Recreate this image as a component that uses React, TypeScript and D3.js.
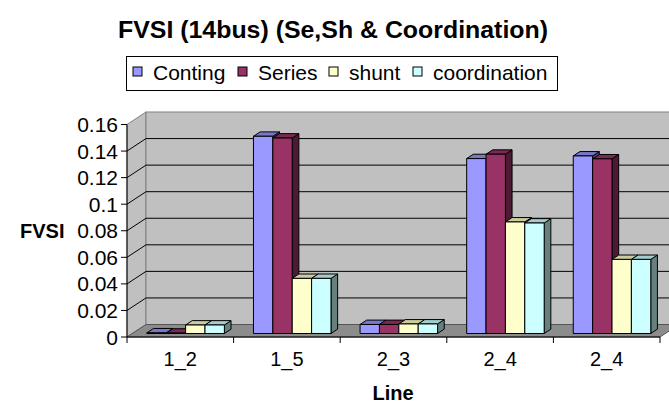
import * as d3 from 'd3';
import React from 'react';

// chart values
const categories = ["1_2", "1_5", "2_3", "2_4", "2_4"];
const seriesNames = ["Conting", "Series", "shunt", "coordination"];
const conting = [0.0005, 0.1485, 0.0068, 0.1317, 0.1337];
const series = [0.0003, 0.1472, 0.0068, 0.135, 0.1315];
const shunt = [0.0064, 0.0415, 0.0072, 0.084, 0.0558];
const coordination = [0.0064, 0.0415, 0.0072, 0.0832, 0.0558];
const yTicks = [0, 0.02, 0.04, 0.06, 0.08, 0.1, 0.12, 0.14, 0.16];

const values = [conting, series, shunt, coordination];
const faces = [
  { front: "#9999FF", top: "#7777CC", side: "#4D4D80" },
  { front: "#993366", top: "#7A2952", side: "#4D1A33" },
  { front: "#FFFFCC", top: "#CCCCA3", side: "#808066" },
  { front: "#CCFFFF", top: "#A3CCCC", side: "#668080" },
];

const W = 669, H = 403;
const font = "'Liberation Sans', Arial, sans-serif";

function App() {
  const x0 = 127, x1 = 660;
  // depth of the floor (oblique)
  const DX = 19, DY = -12.5;
  const y = d3.scaleLinear().domain([0, 0.16]).range([337, 124.5]);
  const x = d3.scaleBand<number>().domain(categories.map((_, i) => i)).range([x0, x1]);

  // bars sit a bit back from the front edge
  const f0 = 0.28, fd = 0.35;
  const offX = DX * f0, offY = DY * f0;
  const bdx = DX * fd, bdy = DY * fd;
  const barW = x.bandwidth() / 5.5;

  const yBack = (v: number) => y(v) + DY;

  const bars: any[] = [];
  categories.forEach((c, ci) => {
    const inner = d3.scaleBand<number>()
      .domain(seriesNames.map((_, i) => i))
      .range([x(ci)! + barW * 0.75, x(ci)! + x.bandwidth() - barW * 0.75]);
    seriesNames.forEach((s, si) => {
      const v = values[si][ci];
      const bx = inner(si)! + offX;
      const by = y(v) + offY;
      const base = y(0) + offY;
      const w = inner.bandwidth();
      const f = faces[si];
      bars.push(
        <g key={ci + "-" + si} stroke="#000" strokeWidth={1} strokeLinejoin="round">
          <polygon fill={f.side}
            points={`${bx + w},${by} ${bx + w + bdx},${by + bdy} ${bx + w + bdx},${base + bdy} ${bx + w},${base}`} />
          <polygon fill={f.top}
            points={`${bx},${by} ${bx + bdx},${by + bdy} ${bx + w + bdx},${by + bdy} ${bx + w},${by}`} />
          <rect x={bx} y={by} width={w} height={Math.max(0, base - by)} fill={f.front} />
        </g>
      );
    });
  });

  const legendX = [133, 238, 329, 413];

  return (
    <svg width={W} height={H} style={{ position: "absolute", left: 0, top: 0, background: "#fff" }} fontFamily={font}>
      <text x={118} y={38} fontSize={23} fontWeight="bold" textLength={430} lengthAdjust="spacingAndGlyphs">
        FVSI (14bus) (Se,Sh &amp; Coordination)
      </text>

      {/* legend */}
      <rect x={126.5} y={56.5} width={431} height={34} fill="#fff" stroke="#000" strokeWidth={1} />
      {seriesNames.map((s, i) => (
        <g key={s}>
          <rect x={legendX[i]} y={67} width={9} height={9} fill={faces[i].front} stroke="#000" strokeWidth={1} />
          <text x={legendX[i] + 20} y={79.5} fontSize={21}>{s}</text>
        </g>
      ))}

      {/* walls */}
      <polygon fill="#C0C0C0" stroke="#808080" strokeWidth={1}
        points={`${x0},${y(0.16)} ${x0 + DX},${yBack(0.16)} ${x0 + DX},${yBack(0)} ${x0},${y(0)}`} />
      <rect x={x0 + DX} y={yBack(0.16)} width={W - x0 - DX + 20} height={yBack(0) - yBack(0.16)}
        fill="#C0C0C0" stroke="#808080" strokeWidth={1} />
      {yTicks.filter(t => t > 0 && t < 0.16).map(t => (
        <polyline key={t} fill="none" stroke="#000" strokeWidth={1}
          points={`${x0},${y(t)} ${x0 + DX},${yBack(t)} ${W + 20},${yBack(t)}`} />
      ))}
      {/* floor */}
      <polygon fill="#8C8C8C" stroke="#555" strokeWidth={1}
        points={`${x0},${y(0)} ${x1},${y(0)} ${x1 + DX},${yBack(0)} ${x0 + DX},${yBack(0)}`} />

      {bars}

      {/* axes */}
      <line x1={x0} x2={x0} y1={y(0.16)} y2={y(0)} stroke="#000" />
      <line x1={x0} x2={x1} y1={y(0)} y2={y(0)} stroke="#000" />
      {yTicks.map(t => (
        <g key={t}>
          <line x1={x0 - 6} x2={x0} y1={y(t)} y2={y(t)} stroke="#000" />
          <text x={118} y={y(t) + 7.5} textAnchor="end" fontSize={21}>{String(+t.toFixed(2))}</text>
        </g>
      ))}
      {categories.map((c, i) => (
        <text key={i} x={x(i)! + x.bandwidth() / 2} y={366} textAnchor="middle" fontSize={20}>{c}</text>
      ))}
      {categories.map((_, i) => i).concat([categories.length]).map(i => {
        const xx = i < categories.length ? x(i)! : x1;
        return <line key={"t" + i} x1={xx} x2={xx} y1={y(0)} y2={y(0) + 6} stroke="#000" />;
      })}

      <text x={20} y={238} fontSize={20} fontWeight="bold">FVSI</text>
      <text x={393} y={400} textAnchor="middle" fontSize={20} fontWeight="bold">Line</text>
    </svg>
  );
}

export default App;
